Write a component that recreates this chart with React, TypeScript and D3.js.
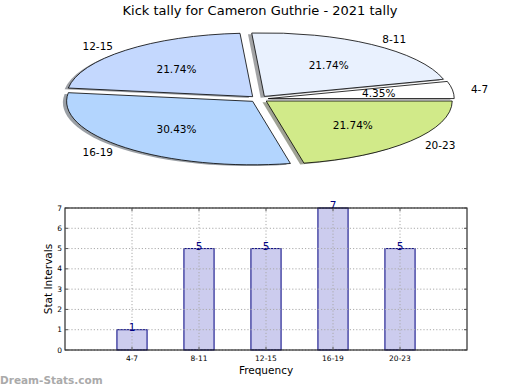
import React, { useEffect, useRef } from 'react';
import * as d3 from 'd3';

const title = 'Kick tally for Cameron Guthrie - 2021 tally';
const categories = ['4-7', '8-11', '12-15', '16-19', '20-23'];
const counts = [1, 5, 5, 7, 5];
const sliceColors = ['#ffffff', '#e9f1fe', '#c4d8fe', '#b3d5fe', '#d1ea89'];
const yTicks = [0, 1, 2, 3, 4, 5, 6, 7];

export default function App() {
    const svgRef = useRef<SVGSVGElement>(null);

    useEffect(() => {
        if (!svgRef.current) return;
        const svg = d3.select(svgRef.current);
        svg.selectAll('*').remove();

        const font = 'DejaVu Sans';
        const W = 520;

        svg.append('rect').attr('width', W).attr('height', 390).attr('fill', '#fff');

        // Title
        svg.append('text')
            .attr('x', 260).attr('y', 10)
            .attr('text-anchor', 'middle').attr('dominant-baseline', 'central')
            .attr('font-family', font).attr('font-size', 13)
            .text(title);

        // ---- Pie (squashed, exploded, with shadows) ----
        const cx = 259, cy = 99, rx = 186, ry = 63.5;
        const explode = 0.05;
        const total = d3.sum(counts);

        const pie = d3.pie<number>().sort(null)
            .startAngle(Math.PI / 2)
            .endAngle(Math.PI / 2 - 2 * Math.PI);
        const arcs = pie(counts);
        const arc = d3.arc<d3.PieArcDatum<number>>().innerRadius(0).outerRadius(1);

        const unit = (d: d3.PieArcDatum<number>) => {
            const a = (d.startAngle + d.endAngle) / 2;
            return [Math.sin(a), -Math.cos(a)];
        };

        const pieG = svg.append('g');
        // shadows first (drawn below every wedge)
        arcs.forEach((d, i) => {
            const [ux, uy] = unit(d);
            const c = d3.rgb(sliceColors[i]);
            pieG.append('path')
                .attr('d', arc(d))
                .attr('transform', `translate(${cx + ux * explode * rx - 0.02 * rx},${cy + uy * explode * ry + 0.02 * ry}) scale(${rx},${ry})`)
                .attr('fill', d3.rgb(c.r * 0.3, c.g * 0.3, c.b * 0.3).toString())
                .attr('fill-opacity', 0.5);
        });
        arcs.forEach((d, i) => {
            const [ux, uy] = unit(d);
            pieG.append('path')
                .attr('d', arc(d))
                .attr('transform', `translate(${cx + ux * explode * rx},${cy + uy * explode * ry}) scale(${rx},${ry})`)
                .attr('fill', sliceColors[i])
                .attr('stroke', '#000')
                .attr('stroke-width', 0.8)
                .attr('vector-effect', 'non-scaling-stroke');
        });
        arcs.forEach((d, i) => {
            const [ux, uy] = unit(d);
            const lr = 1.1 + explode;
            pieG.append('text')
                .attr('x', cx + ux * lr * rx).attr('y', cy + uy * lr * ry)
                .attr('text-anchor', ux > 0 ? 'start' : 'end')
                .attr('dominant-baseline', 'central')
                .attr('font-family', font).attr('font-size', 10.5)
                .text(categories[i]);
            const pr = 0.6 + explode;
            pieG.append('text')
                .attr('x', cx + ux * pr * rx).attr('y', cy + uy * pr * ry)
                .attr('text-anchor', 'middle')
                .attr('dominant-baseline', 'central')
                .attr('font-family', font).attr('font-size', 10.5)
                .text(`${((counts[i] / total) * 100).toFixed(2)}%`);
        });

        // ---- Bar chart ----
        const left = 65, right = 467, top = 208, bottom = 350;
        const x = d3.scaleLinear().domain([-1, categories.length]).range([left, right]);
        const y = d3.scaleLinear().domain([0, 7]).range([bottom, top]);
        const barW = 0.45;

        const g = svg.append('g');

        // bars
        g.selectAll('.bar').data(counts).join('rect')
            .attr('x', (_, i) => x(i - barW / 2))
            .attr('width', x(barW) - x(0))
            .attr('y', d => y(d))
            .attr('height', d => y(0) - y(d))
            .attr('fill', '#ccccee')
            .attr('stroke', '#000080').attr('stroke-width', 1);

        // grid (drawn over the bars)
        g.selectAll('.xgrid').data(categories).join('line')
            .attr('x1', (_, i) => x(i)).attr('x2', (_, i) => x(i))
            .attr('y1', top).attr('y2', bottom)
            .attr('stroke', '#aaa').attr('stroke-width', 1)
            .attr('stroke-dasharray', '1.2,2');
        g.selectAll('.ygrid').data(yTicks).join('line')
            .attr('x1', left).attr('x2', right)
            .attr('y1', d => y(d)).attr('y2', d => y(d))
            .attr('stroke', '#aaa').attr('stroke-width', 1)
            .attr('stroke-dasharray', '1.2,2');

        // value labels
        g.selectAll('.val').data(counts).join('text')
            .attr('x', (_, i) => x(i)).attr('y', d => y(d) + 1)
            .attr('text-anchor', 'middle')
            .attr('font-family', font).attr('font-size', 10.5)
            .attr('fill', '#000080')
            .text(d => d);

        // frame
        g.append('rect')
            .attr('x', left).attr('y', top)
            .attr('width', right - left).attr('height', bottom - top)
            .attr('fill', 'none').attr('stroke', '#000').attr('stroke-width', 1);

        // ticks
        yTicks.forEach(t => {
            g.append('line').attr('x1', left).attr('x2', left + 3).attr('y1', y(t)).attr('y2', y(t)).attr('stroke', '#555');
            g.append('line').attr('x1', right - 3).attr('x2', right).attr('y1', y(t)).attr('y2', y(t)).attr('stroke', '#555');
        });
        categories.forEach((_, i) => {
            g.append('line').attr('x1', x(i)).attr('x2', x(i)).attr('y1', bottom).attr('y2', bottom - 3).attr('stroke', '#555');
            g.append('line').attr('x1', x(i)).attr('x2', x(i)).attr('y1', top).attr('y2', top + 3).attr('stroke', '#555');
        });

        // tick labels
        g.selectAll('.yt').data(yTicks).join('text')
            .attr('x', left - 3).attr('y', d => y(d))
            .attr('text-anchor', 'end').attr('dominant-baseline', 'central')
            .attr('font-family', font).attr('font-size', 7.5)
            .text(d => d);
        g.selectAll('.xt').data(categories).join('text')
            .attr('x', (_, i) => x(i)).attr('y', bottom + 8)
            .attr('text-anchor', 'middle').attr('dominant-baseline', 'central')
            .attr('font-family', font).attr('font-size', 7.5)
            .text(d => d);

        // axis labels
        g.append('text')
            .attr('x', (left + right) / 2).attr('y', 370)
            .attr('text-anchor', 'middle').attr('dominant-baseline', 'central')
            .attr('font-family', font).attr('font-size', 10.5)
            .text('Frequency');
        g.append('text')
            .attr('transform', `translate(48,${(top + bottom) / 2}) rotate(-90)`)
            .attr('text-anchor', 'middle').attr('dominant-baseline', 'central')
            .attr('font-family', font).attr('font-size', 10.5)
            .text('Stat Intervals');

        // watermark
        svg.append('text')
            .attr('x', 0).attr('y', 380)
            .attr('dominant-baseline', 'central')
            .attr('font-family', font).attr('font-size', 10.5)
            .attr('font-weight', 'bold')
            .attr('fill', '#aaa')
            .text('Dream-Stats.com');
    }, []);

    return (
        <svg ref={svgRef} width={520} height={390}
            style={{ position: 'absolute', left: 0, top: 0, display: 'block' }} />
    );
}
